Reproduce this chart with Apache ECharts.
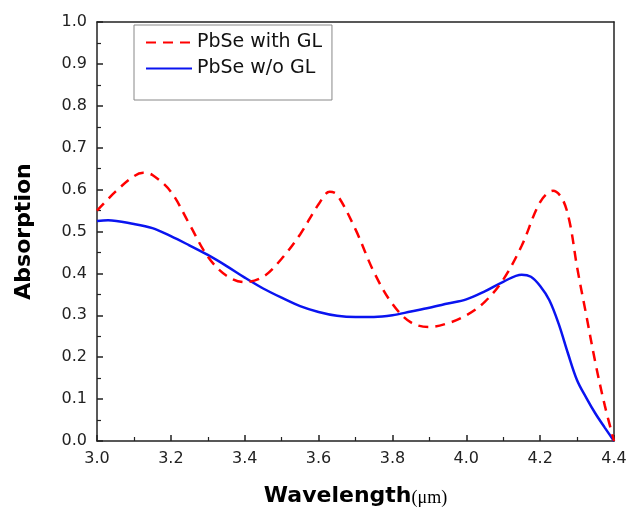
<!DOCTYPE html>
<html>
<head>
<meta charset="utf-8">
<script src="https://cdn.jsdelivr.net/npm/echarts@6/dist/echarts.min.js"></script>
<style>
  html, body { margin: 0; padding: 0; background: #fff; }
  #chart { width: 627px; height: 509px; }
</style>
</head>
<body>
<div id="chart"></div>
<script>
// PbSe with GL (red dashed)
var wlWithGL = [3.00, 3.05, 3.10, 3.125, 3.15, 3.20, 3.25, 3.30, 3.35, 3.40, 3.45, 3.50, 3.55, 3.60, 3.63, 3.65, 3.70, 3.75, 3.80, 3.85, 3.90, 3.95, 4.00, 4.05, 4.10, 4.15, 4.20, 4.235, 4.26, 4.28, 4.30, 4.325, 4.35, 4.375, 4.40];
var absWithGL = [0.55, 0.595, 0.632, 0.640, 0.635, 0.595, 0.518, 0.44, 0.395, 0.379, 0.392, 0.435, 0.493, 0.565, 0.595, 0.588, 0.505, 0.403, 0.327, 0.283, 0.272, 0.281, 0.30, 0.332, 0.385, 0.466, 0.57, 0.597, 0.578, 0.522, 0.415, 0.30, 0.185, 0.085, 0.0];

// PbSe w/o GL (blue solid)
var wlNoGL = [3.00, 3.03, 3.10, 3.15, 3.20, 3.25, 3.30, 3.35, 3.40, 3.45, 3.50, 3.55, 3.60, 3.65, 3.70, 3.75, 3.80, 3.85, 3.90, 3.95, 4.00, 4.05, 4.10, 4.15, 4.175, 4.20, 4.225, 4.25, 4.275, 4.30, 4.325, 4.35, 4.375, 4.40];
var absNoGL = [0.525, 0.527, 0.518, 0.508, 0.489, 0.467, 0.444, 0.418, 0.39, 0.364, 0.342, 0.322, 0.308, 0.299, 0.296, 0.296, 0.300, 0.309, 0.318, 0.328, 0.338, 0.357, 0.38, 0.397, 0.392, 0.37, 0.336, 0.28, 0.21, 0.145, 0.103, 0.065, 0.032, 0.0];

var seriesNames = ['PbSe with GL', 'PbSe w/o GL'];

function pairs(xs, ys) {
  return xs.map(function (x, i) { return [x, ys[i]]; });
}

var chart = echarts.init(document.getElementById('chart'), null, { renderer: 'canvas' });
var axisColor = '#222';
var font = '"DejaVu Sans", "Liberation Sans", Arial, sans-serif';

var option = {
  backgroundColor: '#fff',
  animation: false,
  grid: { left: 97, right: 13, top: 22, bottom: 68, outerBoundsMode: 'none', containLabel: false },
  legend: {
    orient: 'vertical',
    left: 134,
    top: 25,
    width: 195,
    padding: [8, 10, 22, 11],
    itemGap: 7,
    itemWidth: 46,
    itemHeight: 16,
    borderColor: '#888',
    borderWidth: 1,
    itemStyle: { opacity: 0 },
    textStyle: { fontFamily: font, fontSize: 19, lineHeight: 18, color: '#111', padding: [0, 0, 0, 0] },
    data: seriesNames
  },
  xAxis: [{
    type: 'value',
    min: 3.0, max: 4.4, interval: 0.2,
    name: '{b|Wavelength}{s|(μm)}',
    nameLocation: 'middle',
    nameGap: 44,
    nameTextStyle: {
      rich: {
        b: { fontFamily: font, fontWeight: 'bold', fontSize: 22, color: '#000' },
        s: { fontFamily: '"Liberation Serif", serif', fontSize: 18, color: '#000', padding: [4, 0, 0, 0] }
      }
    },
    axisLine: { lineStyle: { color: axisColor, width: 1.5 } },
    axisTick: { inside: true, length: 6, lineStyle: { color: axisColor, width: 1.5 } },
    minorTick: { show: true, splitNumber: 2, length: 4, lineStyle: { color: axisColor, width: 1.2 } },
    axisLabel: { fontFamily: font, fontSize: 16, color: '#222', margin: 10,
      formatter: function (v) { return v.toFixed(1); } },
    splitLine: { show: false }
  }, {
    type: 'value', position: 'top', min: 3.0, max: 4.4,
    axisLine: { show: true, onZero: false, lineStyle: { color: axisColor, width: 1.5 } },
    axisTick: { show: false }, axisLabel: { show: false }, splitLine: { show: false }
  }],
  yAxis: [{
    type: 'value',
    min: 0, max: 1.0, interval: 0.1,
    name: 'Absorption',
    nameLocation: 'middle',
    nameGap: 62,
    nameTextStyle: { fontFamily: font, fontWeight: 'bold', fontSize: 22, color: '#000' },
    axisLine: { show: true, lineStyle: { color: axisColor, width: 1.5 } },
    axisTick: { inside: true, length: 6, lineStyle: { color: axisColor, width: 1.5 } },
    minorTick: { show: true, splitNumber: 2, length: 4, lineStyle: { color: axisColor, width: 1.2 } },
    axisLabel: { fontFamily: font, fontSize: 16, color: '#222', margin: 10,
      formatter: function (v) { return v.toFixed(1); } },
    splitLine: { show: false }
  }, {
    type: 'value', position: 'right', min: 0, max: 1.0,
    axisLine: { show: true, onZero: false, lineStyle: { color: axisColor, width: 1.5 } },
    axisTick: { show: false }, axisLabel: { show: false }, splitLine: { show: false }
  }],
  series: [{
    name: seriesNames[0],
    type: 'line',
    smooth: 0.35,
    symbol: 'none',
    data: pairs(wlWithGL, absWithGL),
    lineStyle: { color: '#ff0000', width: 2.5, type: [10, 7] },
    itemStyle: { color: '#ff0000' },
    z: 3
  }, {
    name: seriesNames[1],
    type: 'line',
    smooth: 0.35,
    symbol: 'none',
    data: pairs(wlNoGL, absNoGL),
    lineStyle: { color: '#0a14f0', width: 2.5, type: 'solid' },
    itemStyle: { color: '#0a14f0' },
    z: 2
  }]
};

chart.setOption(option);
</script>
</body>
</html>
